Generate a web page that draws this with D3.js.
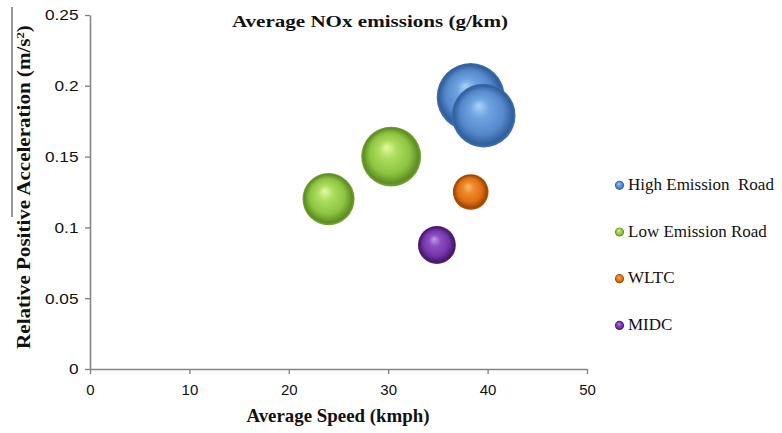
<!DOCTYPE html>
<html>
<head>
<meta charset="utf-8">
<script src="https://cdn.jsdelivr.net/npm/d3@7"></script>
<style>
  html, body { margin: 0; padding: 0; background: #fff; }
  svg { display: block; }
</style>
</head>
<body>
<svg id="chart" width="782" height="433"></svg>
<script>
// Bubble series: average speed (kmph), relative positive acceleration (m/s²), average NOx (g/km)
const seriesNames = ["High Emission Road", "Low Emission Road", "WLTC", "MIDC"];
const highSpeed = [38.3, 39.6];
const highRPA   = [0.192, 0.179];
const highNOx   = [0.58, 0.51];
const lowSpeed  = [24.0, 30.3];
const lowRPA    = [0.120, 0.150];
const lowNOx    = [0.34, 0.45];
const wltcSpeed = [38.3];
const wltcRPA   = [0.125];
const wltcNOx   = [0.16];
const midcSpeed = [34.9];
const midcRPA   = [0.0876];
const midcNOx   = [0.18];

const xTicks = [0, 10, 20, 30, 40, 50];
const yTicks = [0, 0.05, 0.1, 0.15, 0.2, 0.25];
const yTickLabels = ["0", "0.05", "0.1", "0.15", "0.2", "0.25"];

// Sphere shading palettes: highlight, base, edge
const palettes = [
  { hi: "#aad2fa", mid: "#6fa3e0", base: "#5589cc", edge: "#315f9c", rim: "#4271b0" },
  { hi: "#e4fba0", mid: "#acdd5e", base: "#8cc440", edge: "#5f8c23", rim: "#78a934" },
  { hi: "#ffbb70", mid: "#ef8c2c", base: "#dd6f12", edge: "#9c4602", rim: "#b95b0a" },
  { hi: "#c49aee", mid: "#8c50c2", base: "#7434a8", edge: "#47186a", rim: "#5b2488" }
];

const series = [
  { s: highSpeed, a: highRPA, n: highNOx },
  { s: lowSpeed,  a: lowRPA,  n: lowNOx },
  { s: wltcSpeed, a: wltcRPA, n: wltcNOx },
  { s: midcSpeed, a: midcRPA, n: midcNOx }
].map((d, i) => ({
  name: seriesNames[i],
  idx: i,
  points: d.s.map((v, j) => ({ speed: v, rpa: d.a[j], nox: d.n[j], idx: i }))
}));

const svg = d3.select("#chart");

const x = d3.scaleLinear().domain([0, 50]).range([90, 587]);
const y = d3.scaleLinear().domain([0, 0.25]).range([369, 15]);
const r = d3.scaleSqrt().domain([0, 0.6]).range([0, 34.6]);

// Radial gradients giving each bubble a lit-sphere look
const defs = svg.append("defs");
palettes.forEach((p, i) => {
  const g = defs.append("radialGradient")
    .attr("id", "sphere" + i)
    .attr("cx", "50%").attr("cy", "50%").attr("r", "50%")
    .attr("fx", "42%").attr("fy", "34%");
  [[0, p.hi], [0.3, p.mid], [0.68, p.base], [0.92, p.edge], [1, p.rim]]
    .forEach(([o, c]) => g.append("stop").attr("offset", o).attr("stop-color", c));
});

// Axes
const axisColor = "#858585";
const yAxis = svg.append("g")
  .attr("transform", `translate(${x(0)},0)`)
  .call(d3.axisLeft(y).tickValues(yTicks).tickSize(5).tickPadding(5).tickSizeOuter(0)
    .tickFormat((d, i) => yTickLabels[i]));
yAxis.selectAll("text")
  .attr("transform", "scale(1.15,1)")
  .style("font-family", "'Liberation Sans', Arial, sans-serif")
  .style("font-size", "15px")
  .attr("fill", "#111");

const xAxis = svg.append("g")
  .attr("transform", `translate(0,${y(0)})`)
  .call(d3.axisBottom(x).tickValues(xTicks).tickSize(5).tickPadding(10).tickSizeOuter(0)
    .tickFormat(d3.format("d")));
xAxis.selectAll("text")
  .style("font-family", "'Liberation Sans', Arial, sans-serif")
  .style("font-size", "15px")
  .attr("fill", "#111");

[yAxis, xAxis].forEach(a => {
  a.select(".domain").attr("stroke", axisColor).attr("stroke-width", 1.6);
  a.selectAll(".tick line").attr("stroke", axisColor).attr("stroke-width", 1.4);
});

// Bubbles, series order
const allPoints = series.flatMap(s => s.points);
svg.append("g").selectAll("circle")
  .data(allPoints)
  .join("circle")
  .attr("cx", d => x(d.speed))
  .attr("cy", d => y(d.rpa))
  .attr("r", d => r(d.nox))
  .attr("fill", d => `url(#sphere${d.idx})`);

// Chart title
svg.append("text")
  .attr("transform", "translate(370,27) scale(1.24,1)")
  .attr("text-anchor", "middle")
  .style("font-family", "'Liberation Serif', 'Times New Roman', serif")
  .style("font-weight", "bold")
  .style("font-size", "17px")
  .attr("fill", "#111")
  .text("Average NOx emissions (g/km)");

// X axis title
svg.append("text")
  .attr("transform", "translate(338,422) scale(1.05,1)")
  .attr("text-anchor", "middle")
  .style("font-family", "'Liberation Serif', 'Times New Roman', serif")
  .style("font-weight", "bold")
  .style("font-size", "18px")
  .attr("fill", "#111")
  .text("Average Speed (kmph)");

// Y axis title with superscript
const yTitle = svg.append("text")
  .attr("transform", "translate(30,187) rotate(-90) scale(1.17,1)")
  .attr("text-anchor", "middle")
  .style("font-family", "'Liberation Serif', 'Times New Roman', serif")
  .style("font-weight", "bold")
  .style("font-size", "18px")
  .attr("fill", "#111");
yTitle.append("tspan").text("Relative Positive Acceleration (m/s");
yTitle.append("tspan").attr("baseline-shift", "super").style("font-size", "11px").text("2");
yTitle.append("tspan").text(")");

// Rule above the start of the y title
svg.append("line")
  .attr("x1", 12).attr("x2", 12).attr("y1", 7).attr("y2", 217)
  .attr("stroke", "#333").attr("stroke-width", 1);

// Legend
const legend = svg.append("g").selectAll("g")
  .data(series)
  .join("g")
  .attr("transform", (d, i) => `translate(619.5,${185.3 + i * 46.7})`);
legend.append("circle")
  .attr("r", 4.6)
  .attr("fill", d => `url(#sphere${d.idx})`);
legend.append("text")
  .attr("x", 8.5).attr("y", 4.5)
  .style("font-family", "'Liberation Serif', 'Times New Roman', serif")
  .style("font-size", "17px")
  .style("white-space", "pre")
  .attr("fill", "#111")
  .text(d => d.idx === 0 ? "High Emission  Road" : d.name);
</script>
</body>
</html>
